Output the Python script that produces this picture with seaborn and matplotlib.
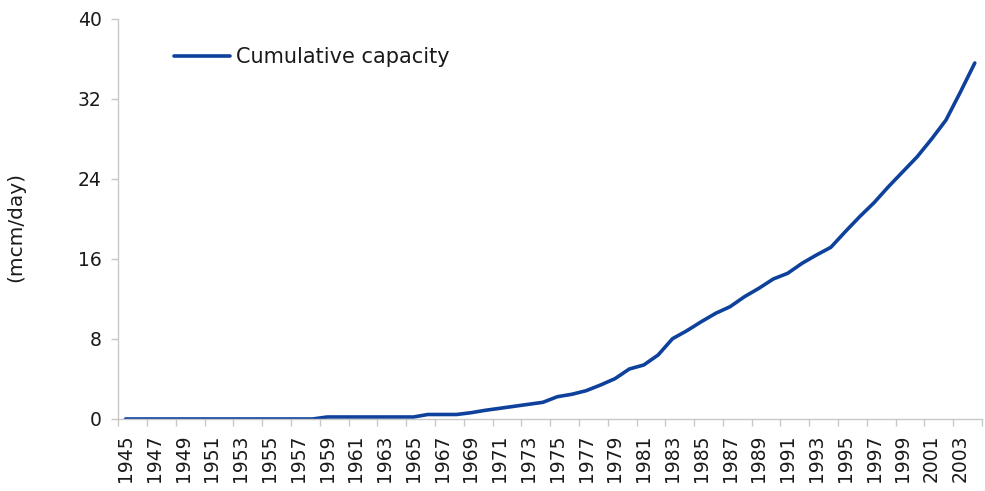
import matplotlib
matplotlib.use("Agg")
import matplotlib.pyplot as plt
import seaborn as sns
import pandas as pd

years = list(range(1945, 2005))
capacity = [0, 0, 0, 0, 0, 0, 0, 0, 0, 0, 0, 0, 0, 0,
            0.2, 0.2, 0.2, 0.2, 0.2, 0.2, 0.2,
            0.45, 0.45, 0.45,
            0.63, 0.87, 1.07, 1.27, 1.47, 1.67,
            2.23, 2.47, 2.83, 3.4, 4.03,
            5.0, 5.4, 6.4, 8.03, 8.83,
            9.73, 10.57, 11.23, 12.23, 13.07,
            14.0, 14.57, 15.57, 16.4, 17.17,
            18.73, 20.23, 21.63, 23.23, 24.73,
            26.23, 28.0, 29.9, 32.7, 35.6]
series_name = "Cumulative capacity"
y_label = "(mcm/day)"
y_ticks = [0, 8, 16, 24, 32, 40]

df = pd.DataFrame({"year": years, "value": capacity, "series": series_name})

sns.set_theme(style="white")
plt.rcParams['font.family'] = ['DejaVu Sans']

fig = plt.figure(figsize=(9.85, 4.91), dpi=100)
ax = fig.add_axes([118.3 / 985, (491 - 419) / 491, (982 - 118.3) / 985, 400 / 491])

sns.lineplot(data=df, x="year", y="value", hue="series", palette=["#0E419C"],
             linewidth=2.6, ax=ax)

ax.set_xlim(1944.5, 2004.5)
ax.set_ylim(0, 40)
ax.set_yticks(y_ticks)
ax.set_yticklabels([str(t) for t in y_ticks], fontsize=13.5, color="#1a1a1a")

major = years[::2]
ax.set_xticks(major)
ax.set_xticklabels([str(y) for y in major], rotation=90, fontsize=13.5, color="#1a1a1a")
ax.set_xticks([y - 0.5 for y in years[::2]] + [2004.5], minor=True)
ax.tick_params(axis="x", which="major", length=0, pad=11)
ax.tick_params(axis="x", which="minor", length=5, width=1, color="#c8c8c8", bottom=True)
ax.tick_params(axis="y", length=5, width=1, color="#c8c8c8", left=True, pad=7)

for s in ["top", "right"]:
    ax.spines[s].set_visible(False)
for s in ["left", "bottom"]:
    ax.spines[s].set_color("#c8c8c8")
    ax.spines[s].set_linewidth(1)

ax.set_xlabel("")
ax.set_ylabel(y_label, fontsize=14.5, color="#1a1a1a")
ax.yaxis.set_label_coords(-0.108, 0.48)

leg = ax.legend(loc="center left", bbox_to_anchor=(0.055, 0.905), frameon=False,
                fontsize=15, handlelength=2.7, handletextpad=0.25, borderaxespad=0)
for t in leg.get_texts():
    t.set_color("#1a1a1a")

fig.savefig("out.png", dpi=100)
